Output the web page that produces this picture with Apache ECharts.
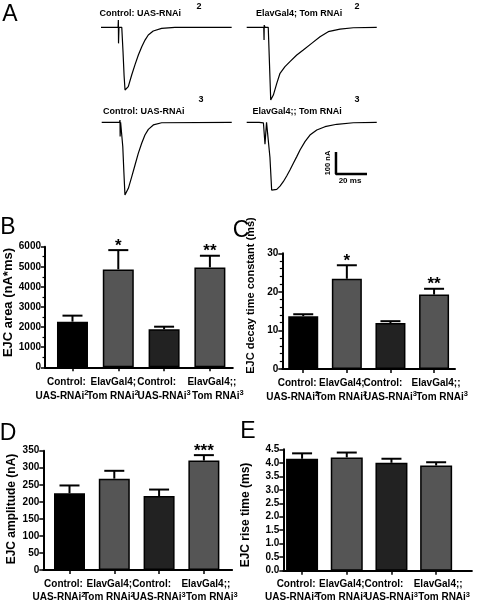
<!DOCTYPE html>
<html><head><meta charset="utf-8">
<script src="https://cdn.jsdelivr.net/npm/echarts@6/dist/echarts.min.js"></script>
<style>html,body{margin:0;padding:0;background:#fff}#c{width:481px;height:603px}</style>
</head><body><div id="c"></div>
<script>
// ---------- DATA ----------
// x category labels (two lines + superscript)
const catLine1 = ['Control:', 'ElavGal4;', 'Control:', 'ElavGal4;;'];
const catLine2 = ['UAS-RNAi', 'Tom RNAi', 'UAS-RNAi', 'Tom RNAi'];
const catSup = ['2', '2', '3', '3'];

// B: EJC area (nA*ms)
const areaMean = [2270, 4870, 1890, 4970];
const areaSem = [300, 960, 130, 580];
const areaStars = ['', '*', '', '**'];
// C: EJC decay time constant (ms)
const decayMean = [13.7, 23.4, 11.9, 19.3];
const decaySem = [0.5, 3.5, 0.5, 1.5];
const decayStars = ['', '*', '', '**'];
// D: EJC amplitude (nA)
const ampMean = [225, 268, 217, 321];
const ampSem = [23, 23, 19, 16];
const ampStars = ['', '', '', '***'];
// E: EJC rise time (ms)
const riseMean = [4.15, 4.2, 4.0, 3.9];
const riseSem = [0.2, 0.18, 0.15, 0.12];
const riseStars = ['', '', '', ''];

// A: example traces, time (ms) and current (nA)
const trace1T = [0, 11.0, 11.2, 11.3, 11.6, 13.4, 14.2, 14.9, 15.5, 17.6, 19.8, 21.9, 24.1, 26.3, 28.4, 30.5, 33.7, 39.1, 47.7, 84.3];
const trace1I = [0, 0, 33, -73, 0, 0, -110, -220, -285, -270, -217, -171, -126, -88, -58, -35, -17, -5, 0, 0];
const trace2T = [0, 11.0, 11.2, 11.3, 11.8, 13.9, 15.5, 17.2, 19.4, 21.5, 24.7, 27.9, 32.3, 36.5, 41.9, 47.3, 52.6, 60.2, 68.8, 83.9];
const trace2I = [0, 0, -58, 10, 0, 0, -330, -308, -255, -209, -179, -156, -126, -103, -73, -43, -20, -8, -2, 0];
const trace3T = [0, 11.5, 11.8, 11.9, 12.2, 12.9, 13.6, 14.3, 15.0, 17.2, 19.4, 21.5, 23.6, 25.8, 27.9, 30.1, 33.3, 38.7, 83.9];
const trace3I = [0, 0, 10, -65, 0, 0, -110, -225, -330, -300, -247, -194, -141, -95, -58, -32, -12, -2, 0];
const trace4T = [0, 8, 10.8, 11.8, 12.8, 13.9, 15.0, 16.1, 17.2, 19.4, 21.5, 23.6, 25.8, 27.9, 30.1, 32.3, 34.4, 37.6, 40.8, 45.2, 50.5, 58.1, 68.8, 83.9];
const trace4I = [0, 0, -3, -100, 0, 0, -160, -308, -311, -305, -290, -270, -244, -217, -186, -156, -126, -88, -58, -35, -20, -9, -2, 0];
const traceTitles = ['Control: UAS-RNAi', 'ElavGal4; Tom RNAi', 'Control: UAS-RNAi', 'ElavGal4;; Tom RNAi'];
const traceSup = ['2', '2', '3', '3'];
const scaleBarNA = 100;
const scaleBarMs = 20;

// ---------- STYLE / LAYOUT ----------
const FONT = "'Liberation Sans', Arial, Helvetica, sans-serif";
const barColors = ['#000000', '#555555', '#222222', '#555555'];
// horizontal shift (px) of each label line relative to its tick
const line1Shift = [-6, -5, -7.5, 2];
const line2Shift = [-10.5, -5.5, 0, 8];

const traceGrids = [
  {left: 101, top: 18.5},
  {left: 246.7, top: 18.5},
  {left: 101.7, top: 113.5},
  {left: 246.7, top: 113.5}
];
const traceW = 130.2, traceH = 83.6, tMax = 84, iMin = -340, iMax = 40;
const scaleBarOrigin = {t: 57.6, i: -235};

const panels = [
  {mean: areaMean, sem: areaSem, stars: areaStars, left: 45, top: 246.7, width: 187.8, height: 120.6,
   xmin: -0.6, xmax: 3.5, ymax: 6000, interval: 1000, minor: 2, barW: 31, lm: 8.5, fmt: v => String(v)},
  {mean: decayMean, sem: decaySem, stars: decayStars, left: 282.3, top: 253.3, width: 172.7, height: 115.7,
   xmin: -0.48, xmax: 3.48, ymax: 30, interval: 10, minor: 5, barW: 30, lm: 7.5, fmt: v => String(v)},
  {mean: ampMean, sem: ampSem, stars: ampStars, left: 43.3, top: 450.7, width: 188.8, height: 119.3,
   xmin: -0.585, xmax: 3.63, ymax: 350, interval: 50, minor: 0, barW: 31, lm: 7, fmt: v => String(v)},
  {mean: riseMean, sem: riseSem, stars: riseStars, left: 283.3, top: 449.3, width: 188.6, height: 121.4,
   xmin: -0.42, xmax: 3.8, ymax: 4.5, interval: 0.5, minor: 0, barW: 32, lm: 6.5, fmt: v => v.toFixed(1)}
];
const yTitles = [
  {text: 'EJC area (nA*ms)', x: 8, y: 302.5, size: 13},
  {text: 'EJC decay time constant (ms)', x: 251, y: 295.5, size: 11},
  {text: 'EJC amplitude (nA)', x: 12, y: 509, size: 12},
  {text: 'EJC rise time (ms)', x: 246, y: 515, size: 12}
];
const letters = [
  {t: 'A', x: 10, y: 15}, {t: 'B', x: 8, y: 228}, {t: 'C', x: 241, y: 231},
  {t: 'D', x: 8, y: 434}, {t: 'E', x: 248, y: 432}
];
const traceTitlePos = [
  {x: 99.5, y: 13.3, sx: 199, sy: 6.7},
  {x: 256, y: 13.3, sx: 357, sy: 6.7},
  {x: 103, y: 112, sx: 201, sy: 100},
  {x: 252.5, y: 112, sx: 357, sy: 100}
];

// ---------- BUILD ----------
const grid = [], xAxis = [], yAxis = [], series = [], graphic = [];
const traces = [[trace1T, trace1I], [trace2T, trace2I], [trace3T, trace3I], [trace4T, trace4I]];

traces.forEach((tr, k) => {
  grid.push({left: traceGrids[k].left, top: traceGrids[k].top, width: traceW, height: traceH, outerBoundsMode: 'none'});
  xAxis.push({gridIndex: k, type: 'value', min: 0, max: tMax, show: false});
  yAxis.push({gridIndex: k, type: 'value', min: iMin, max: iMax, show: false});
  series.push({
    type: 'line', xAxisIndex: k, yAxisIndex: k, showSymbol: false, symbol: 'none', clip: false,
    data: tr[0].map((t, i) => [t, tr[1][i]]),
    lineStyle: {color: '#000', width: 1.2}, silent: true
  });
});
// scale bar on the 4th trace grid
series.push({
  type: 'line', xAxisIndex: 3, yAxisIndex: 3, showSymbol: false, symbol: 'none', clip: false,
  data: [[scaleBarOrigin.t, scaleBarOrigin.i + scaleBarNA], [scaleBarOrigin.t, scaleBarOrigin.i],
         [scaleBarOrigin.t + scaleBarMs, scaleBarOrigin.i]],
  lineStyle: {color: '#000', width: 2.5}, silent: true
});

const labelFmt = v => {
  const i = Math.round(v);
  return '{a' + i + '|' + catLine1[i] + '}\n{b' + i + '|' + catLine2[i] + '}{s' + i + '|' + catSup[i] + '}';
};
const labelRich = {};
const base = {fontSize: 10, fontWeight: 'bold', fontFamily: FONT, color: '#000', lineHeight: 13.5, align: 'center'};
for (let i = 0; i < 4; i++) {
  const s1 = line1Shift[i], s2 = line2Shift[i];
  labelRich['a' + i] = Object.assign({}, base, {padding: s1 < 0 ? [0, -2 * s1, 0, 0] : [0, 0, 0, 2 * s1]});
  labelRich['b' + i] = Object.assign({}, base, {padding: s2 > 0 ? [0, 0, 0, 2 * s2] : [0, 0, 0, 0]});
  labelRich['s' + i] = {fontSize: 7.5, fontWeight: 'bold', fontFamily: FONT, color: '#000', lineHeight: 5,
    verticalAlign: 'top', align: 'center', padding: s2 < 0 ? [0, -2 * s2, 0, 0] : [0, 0, 0, 0]};
}

panels.forEach((p, j) => {
  const k = 4 + j;
  grid.push({left: p.left, top: p.top, width: p.width, height: p.height, outerBoundsMode: 'none'});
  const xi = xAxis.length;
  // main x axis: line, ticks, labels for categories 0 and 2
  xAxis.push({
    gridIndex: k, type: 'value', min: p.xmin, max: p.xmax,
    axisLine: {show: true, onZero: false, lineStyle: {color: '#000', width: 2}},
    axisTick: {show: true, length: 4, customValues: [0, 1, 2, 3], lineStyle: {color: '#000', width: 1.5}},
    splitLine: {show: false},
    axisLabel: {show: true, customValues: [0, 2], margin: p.lm,
      hideOverlap: false, formatter: labelFmt, rich: labelRich}
  });
  // companion x axis: labels for categories 1 and 3 (avoids overlap-hiding)
  xAxis.push({
    gridIndex: k, type: 'value', min: p.xmin, max: p.xmax, position: 'bottom', offset: 0,
    axisLine: {show: false, onZero: false}, axisTick: {show: false}, splitLine: {show: false},
    axisLabel: {show: true, customValues: [1, 3], margin: p.lm,
      hideOverlap: false, formatter: labelFmt, rich: labelRich}
  });
  yAxis.push({
    gridIndex: k, type: 'value', min: 0, max: p.ymax, interval: p.interval,
    axisLine: {show: true, onZero: false, lineStyle: {color: '#000', width: 2}},
    axisTick: {show: true, length: 4, lineStyle: {color: '#000', width: 1.5}},
    minorTick: {show: p.minor > 0, splitNumber: p.minor || 2, length: 2.5, lineStyle: {color: '#000', width: 1.2}},
    splitLine: {show: false}, minorSplitLine: {show: false},
    axisLabel: {color: '#000', fontWeight: 'bold', fontSize: 10, fontFamily: FONT, margin: 4, formatter: p.fmt,
      hideOverlap: false, showMinLabel: true, showMaxLabel: true}
  });
  series.push({
    type: 'bar', xAxisIndex: xi, yAxisIndex: k, barWidth: p.barW,
    data: p.mean.map((v, i) => ({value: [i, v], itemStyle: {color: barColors[i]}})),
    itemStyle: {borderColor: '#000', borderWidth: 1.5}, silent: true
  });
  const stars = p.stars;
  series.push({
    type: 'custom', xAxisIndex: xi, yAxisIndex: k, silent: true,
    encode: {x: 0, y: [1, 2]},
    data: p.mean.map((v, i) => [i, v, v + p.sem[i]]),
    renderItem: (params, api) => {
      const i = params.dataIndex;
      const c0 = api.coord([api.value(0), api.value(1)]);
      const c1 = api.coord([api.value(0), api.value(2)]);
      const ch = [
        {type: 'line', shape: {x1: c0[0], y1: c0[1], x2: c1[0], y2: c1[1]}, style: {stroke: '#000', lineWidth: 2}},
        {type: 'line', shape: {x1: c1[0] - 10, y1: c1[1], x2: c1[0] + 10, y2: c1[1]}, style: {stroke: '#000', lineWidth: 2}}
      ];
      if (stars[i]) ch.push({type: 'text', x: c1[0], y: c1[1] - 4,
        style: {text: stars[i], fill: '#000', font: 'bold 17px ' + FONT, align: 'center', verticalAlign: 'middle'}});
      return {type: 'group', children: ch};
    }
  });
});

letters.forEach(l => graphic.push({type: 'text', x: l.x, y: l.y,
  style: {text: l.t, fill: '#000', font: '23px ' + FONT, align: 'center', verticalAlign: 'middle'}}));
yTitles.forEach(t => graphic.push({type: 'text', x: t.x, y: t.y, rotation: Math.PI / 2,
  style: {text: t.text, fill: '#000', font: 'bold ' + t.size + 'px ' + FONT, align: 'center', verticalAlign: 'middle'}}));
traceTitlePos.forEach((p, k) => {
  graphic.push({type: 'text', x: p.x, y: p.y,
    style: {text: traceTitles[k], fill: '#000', font: 'bold 9px ' + FONT, align: 'left', verticalAlign: 'middle'}});
  graphic.push({type: 'text', x: p.sx, y: p.sy,
    style: {text: traceSup[k], fill: '#000', font: 'bold 9px ' + FONT, align: 'center', verticalAlign: 'middle'}});
});
graphic.push({type: 'text', x: 328, y: 163, rotation: Math.PI / 2,
  style: {text: scaleBarNA + ' nA', fill: '#000', font: 'bold 7.5px ' + FONT, align: 'center', verticalAlign: 'middle'}});
graphic.push({type: 'text', x: 350, y: 181,
  style: {text: scaleBarMs + ' ms', fill: '#000', font: 'bold 8px ' + FONT, align: 'center', verticalAlign: 'middle'}});

const chart = echarts.init(document.getElementById('c'), null, {renderer: 'canvas'});
chart.setOption({animation: false, backgroundColor: '#fff', grid, xAxis, yAxis, series, graphic});
</script></body></html>
